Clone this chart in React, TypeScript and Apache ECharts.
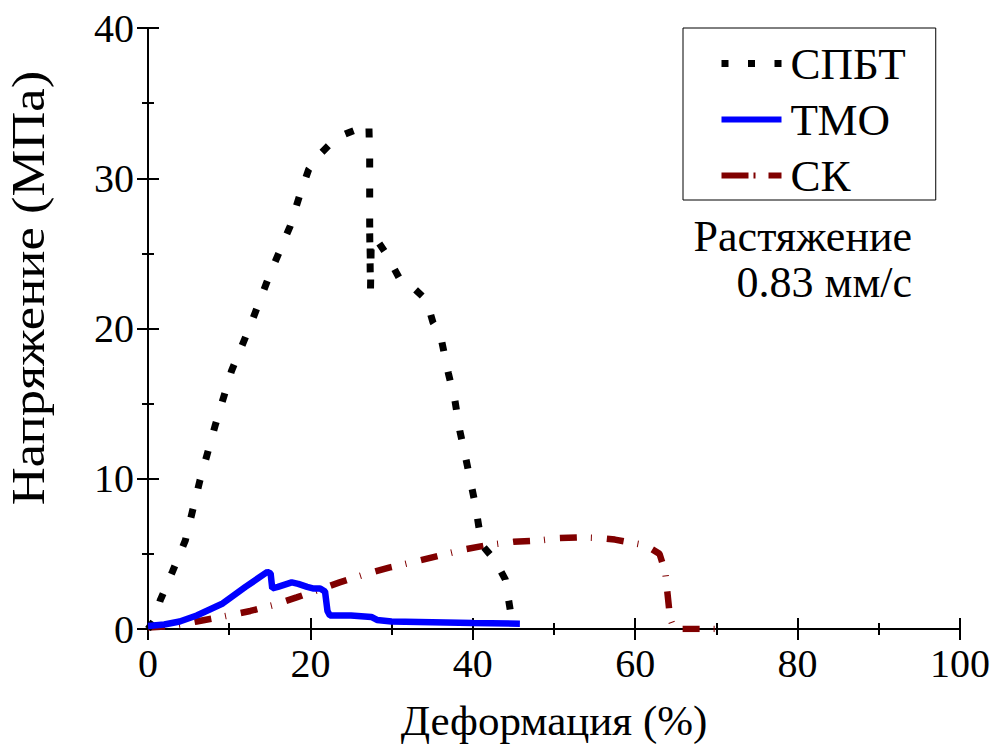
import React, { useEffect, useRef } from "react";
import * as echarts from "echarts";

const seriesNames = ["СПБТ", "ТМО", "СК"];

const spbtData: [number, number][] = [
  [0, 0], [0.8, 0.6], [1.5, 1.9], [3, 3.8], [4.6, 5.9], [6.4, 9.9], [8.3, 13.6],
  [10.3, 17.2], [12.6, 20.2], [15, 23.6], [17.5, 26.8], [18.7, 28.9], [19.8, 30.6],
  [21, 31.5], [23.2, 32.7], [25, 33.1], [26.5, 33.4], [27.2, 33.6], [27.3, 31.5],
  [27.3, 27], [27.4, 24], [27.3, 26.5], [27.4, 22.5], [27.5, 26], [28.3, 25.8],
  [29.3, 25.0], [30.9, 23.4], [32.5, 22.8], [33.9, 22.1], [34.5, 21.5], [35.1, 20.4],
  [36, 19.6], [37, 17], [37.8, 15.2], [38.4, 13.2], [39.2, 11.2], [40.3, 8.3],
  [41.1, 5.6], [42.7, 4.6], [44, 3.3], [44.6, 1.3], [44.8, 0.3],
];

const tmoData: [number, number][] = [
  [0, 0.2], [2, 0.3], [3.9, 0.5], [6, 0.9], [9.2, 1.7], [12, 2.8], [14.7, 3.8],
  [15.1, 3.7], [15.3, 2.7], [16, 2.8], [17.7, 3.1], [18.5, 3.0], [19.6, 2.8],
  [20.3, 2.7], [21.2, 2.7], [21.8, 2.5], [22.1, 1.2], [22.4, 0.9], [25, 0.9],
  [27.5, 0.8], [28.2, 0.6], [30, 0.5], [35, 0.45], [40, 0.4], [45.8, 0.35],
];

const skData: [number, number][] = [
  [0, 0.1], [3, 0.2], [6, 0.5], [9, 0.8], [12.6, 1.2], [15.5, 1.6], [18.3, 2.1],
  [21, 2.6], [23.6, 3.1], [26.5, 3.6], [29.8, 4.1], [33, 4.5], [36, 4.9], [39, 5.3],
  [42, 5.6], [45, 5.8], [48.3, 5.9], [50.7, 6.05], [53, 6.1], [55.7, 6.05],
  [57.5, 5.95], [59, 5.8], [60.5, 5.65], [61.8, 5.4], [63, 5.0], [63.7, 3.8],
  [64.3, 0.7], [64.8, 0], [71.3, 0],
];

const xTitle = "Деформация (%)";
const yTitle = "Напряжение (МПа)";
const noteLines = ["Растяжение", "0.83 мм/с"];

const FONT = "Liberation Serif";

export default function App() {
  const ref = useRef<HTMLDivElement>(null);
  useEffect(() => {
    if (!ref.current) return;
    const chart = echarts.init(ref.current, undefined, { renderer: "svg" });
    const axisCommon = {
      min: 0,
      axisLine: { show: true, lineStyle: { color: "#000", width: 2 } },
      axisTick: { show: true, inside: true, length: 11, lineStyle: { color: "#000", width: 2 } },
      minorTick: { show: true, splitNumber: 2, length: 6, lineStyle: { color: "#000", width: 2 } },
      splitLine: { show: false },
      minorSplitLine: { show: false },
    };
    chart.setOption({
      animation: false,
      backgroundColor: "#fff",
      grid: { left: 148, right: 37, top: 28, bottom: 120 },
      legend: {
        orient: "vertical",
        left: 683,
        top: 28,
        padding: [13, 30, 2, 35],
        itemGap: 11,
        itemWidth: 60,
        itemHeight: 14,
        borderColor: "#000",
        borderWidth: 1,
        itemStyle: { opacity: 0 },
        textStyle: { fontFamily: FONT, fontSize: 45, color: "#000", padding: [0, 0, 0, 4] },
        data: [
          { name: seriesNames[0], itemStyle: { opacity: 0 }, lineStyle: { type: [7, 19.5], width: 7, cap: "butt", color: "#000" } },
          { name: seriesNames[1], itemStyle: { opacity: 0 }, lineStyle: { type: "solid", width: 6, color: "#0000ff" } },
          { name: seriesNames[2], itemStyle: { opacity: 0 }, lineStyle: { type: [27, 5, 2, 13], width: 6, color: "#800000" } },
        ],
      },
      xAxis: [
        {
          ...axisCommon,
          type: "value",
          position: "bottom",
          max: 100,
          interval: 20,
          axisLabel: { fontFamily: FONT, fontSize: 40, color: "#000", margin: 14 },
          name: xTitle,
          nameLocation: "middle",
          nameGap: 70,
          nameTextStyle: { fontFamily: FONT, fontSize: 43, color: "#000" },
        },
        {
          ...axisCommon,
          type: "value",
          position: "top",
          max: 100,
          interval: 20,
          axisLabel: { show: false },
        },
      ],
      yAxis: [
        {
          ...axisCommon,
          type: "value",
          position: "left",
          max: 40,
          interval: 10,
          axisLabel: { fontFamily: FONT, fontSize: 40, color: "#000", margin: 14 },
        },
        {
          ...axisCommon,
          type: "value",
          position: "right",
          max: 40,
          interval: 10,
          axisLabel: { show: false },
        },
      ],
      series: [
        {
          name: seriesNames[0],
          type: "line",
          data: spbtData,
          symbol: "none",
          lineStyle: { color: "#000", width: 7, type: [9, 21], cap: "butt" },
          itemStyle: { color: "#000" },
          z: 3,
        },
        {
          name: seriesNames[1],
          type: "line",
          data: tmoData,
          symbol: "none",
          lineStyle: { color: "#0000ff", width: 6.5, type: "solid" },
          itemStyle: { color: "#0000ff" },
          z: 4,
        },
        {
          name: seriesNames[2],
          type: "line",
          data: skData,
          symbol: "none",
          lineStyle: { color: "#800000", width: 6.5, type: [17, 14, 1, 15], cap: "butt" },
          itemStyle: { color: "#800000" },
          z: 2,
        },
      ],
      graphic: [
        {
          type: "text",
          x: 28,
          y: 288,
          rotation: Math.PI / 2,
          scaleX: 1.12,
          style: {
            text: yTitle,
            fontFamily: FONT,
            fontSize: 47,
            fill: "#000",
            align: "center",
            verticalAlign: "middle",
          },
        },
      ],
    });
    return () => chart.dispose();
  }, []);
  return (
    <>
      <div ref={ref} style={{ position: "absolute", left: 0, top: 0, width: 997, height: 749 }} />
      <div
        style={{
          position: "absolute",
          left: 600,
          top: 214,
          width: 312,
          textAlign: "right",
          fontFamily: FONT,
          fontSize: 44,
          lineHeight: "46px",
          color: "#000",
        }}
      >
        <div>{noteLines[0]}</div>
        <div>{noteLines[1]}</div>
      </div>
    </>
  );
}
